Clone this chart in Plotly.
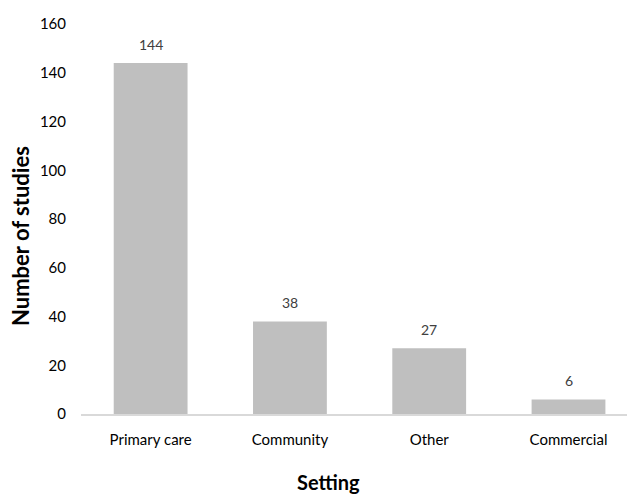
import plotly.graph_objects as go

settings = ["Primary care", "Community", "Other", "Commercial"]
studies = [144, 38, 27, 6]

FONT = "Lato, 'Open Sans', sans-serif"

fig = go.Figure()
fig.add_trace(go.Bar(
    x=settings,
    y=studies,
    marker=dict(color="#bfbfbf", line=dict(width=0)),
    width=0.53,
    hoverinfo="x+y",
))

# value labels above each bar
for s, v in zip(settings, studies):
    fig.add_annotation(
        x=s, y=v, text=str(v), showarrow=False,
        yanchor="bottom", yshift=8,
        font=dict(family=FONT, size=14, color="#404040"),
    )

# axis titles
fig.add_annotation(
    xref="paper", yref="paper", x=0.454, y=0,
    xanchor="center", yanchor="top", yshift=-54,
    text="<b>Setting</b>", showarrow=False,
    font=dict(family=FONT, size=20, color="#000000"),
)
fig.add_annotation(
    xref="paper", yref="paper", x=-0.112, y=0.456,
    xanchor="center", yanchor="middle", textangle=-90,
    text="<b>Number of studies</b>", showarrow=False,
    font=dict(family=FONT, size=22, color="#000000"),
)

fig.update_layout(
    width=627, height=495,
    margin=dict(l=81, r=0, t=24, b=81),
    paper_bgcolor="white", plot_bgcolor="white",
    showlegend=False,
    font=dict(family=FONT, size=15, color="#000000"),
    xaxis=dict(
        range=[-0.5, 3.42],
        showline=True, linecolor="#d9d9d9", linewidth=1.5,
        showgrid=False, ticks="", zeroline=False,
        tickfont=dict(family=FONT, size=15, color="#000000"),
        ticklabelstandoff=11,
    ),
    yaxis=dict(
        range=[0, 160], dtick=20,
        showline=False, showgrid=False, zeroline=False, ticks="",
        tickfont=dict(family=FONT, size=15, color="#000000"),
        ticklabelstandoff=14,
    ),
)

fig.write_html("out.html")
